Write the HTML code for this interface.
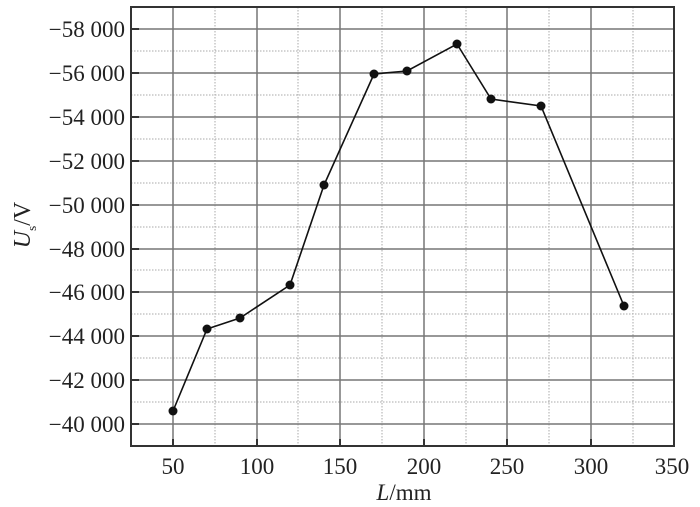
<!DOCTYPE html>
<html><head><style>body{margin:0;background:#fff}svg{display:block}</style></head><body>
<svg width="700" height="507" xmlns="http://www.w3.org/2000/svg" font-family="Liberation Serif, serif" fill="#222">
<g stroke="#aaa" stroke-width="1" stroke-dasharray="1.5,1.5">
<line x1="131" x2="674" y1="51" y2="51"/><line x1="131" x2="674" y1="95" y2="95"/><line x1="131" x2="674" y1="139" y2="139"/><line x1="131" x2="674" y1="183" y2="183"/><line x1="131" x2="674" y1="227" y2="227"/><line x1="131" x2="674" y1="270" y2="270"/><line x1="131" x2="674" y1="314" y2="314"/><line x1="131" x2="674" y1="358" y2="358"/><line x1="131" x2="674" y1="402" y2="402"/>
<line y1="7" y2="446" x1="215" x2="215"/><line y1="7" y2="446" x1="298" x2="298"/><line y1="7" y2="446" x1="382" x2="382"/><line y1="7" y2="446" x1="466" x2="466"/><line y1="7" y2="446" x1="549" x2="549"/><line y1="7" y2="446" x1="633" x2="633"/>
</g>
<g stroke="#777" stroke-width="1.5">
<line x1="131" x2="674" y1="29" y2="29"/><line x1="131" x2="674" y1="73" y2="73"/><line x1="131" x2="674" y1="117" y2="117"/><line x1="131" x2="674" y1="161" y2="161"/><line x1="131" x2="674" y1="205" y2="205"/><line x1="131" x2="674" y1="249" y2="249"/><line x1="131" x2="674" y1="292" y2="292"/><line x1="131" x2="674" y1="336" y2="336"/><line x1="131" x2="674" y1="380" y2="380"/><line x1="131" x2="674" y1="424" y2="424"/>
<line y1="7" y2="446" x1="173" x2="173"/><line y1="7" y2="446" x1="257" x2="257"/><line y1="7" y2="446" x1="340" x2="340"/><line y1="7" y2="446" x1="424" x2="424"/><line y1="7" y2="446" x1="507" x2="507"/><line y1="7" y2="446" x1="591" x2="591"/>
</g>
<rect x="131" y="7" width="543" height="439" fill="none" stroke="#333" stroke-width="2"/>
<g stroke="#333" stroke-width="2">
<line x1="131" x2="139" y1="29" y2="29"/><line x1="131" x2="139" y1="73" y2="73"/><line x1="131" x2="139" y1="117" y2="117"/><line x1="131" x2="139" y1="161" y2="161"/><line x1="131" x2="139" y1="205" y2="205"/><line x1="131" x2="139" y1="249" y2="249"/><line x1="131" x2="139" y1="292" y2="292"/><line x1="131" x2="139" y1="336" y2="336"/><line x1="131" x2="139" y1="380" y2="380"/><line x1="131" x2="139" y1="424" y2="424"/>
<line y1="446" y2="439" x1="173" x2="173"/><line y1="446" y2="439" x1="257" x2="257"/><line y1="446" y2="439" x1="340" x2="340"/><line y1="446" y2="439" x1="424" x2="424"/><line y1="446" y2="439" x1="507" x2="507"/><line y1="446" y2="439" x1="591" x2="591"/>
</g>
<polyline fill="none" stroke="#111" stroke-width="1.6" points="173,411 207,329 240,318 290,285 324,185 374,74 407,71 457,44 491,99 541,106 624,306"/>
<g fill="#111">
<circle cx="173" cy="411" r="4.5"/><circle cx="207" cy="329" r="4.5"/><circle cx="240" cy="318" r="4.5"/><circle cx="290" cy="285" r="4.5"/><circle cx="324" cy="185" r="4.5"/><circle cx="374" cy="74" r="4.5"/><circle cx="407" cy="71" r="4.5"/><circle cx="457" cy="44" r="4.5"/><circle cx="491" cy="99" r="4.5"/><circle cx="541" cy="106" r="4.5"/><circle cx="624" cy="306" r="4.5"/>
</g>
<g font-size="23" text-anchor="end">
<text x="125" y="37">−58 000</text><text x="125" y="81">−56 000</text><text x="125" y="125">−54 000</text><text x="125" y="169">−52 000</text><text x="125" y="213">−50 000</text><text x="125" y="257">−48 000</text><text x="125" y="300">−46 000</text><text x="125" y="344">−44 000</text><text x="125" y="388">−42 000</text><text x="125" y="432">−40 000</text>
</g>
<g font-size="23" text-anchor="middle">
<text x="173" y="474">50</text><text x="257" y="474">100</text><text x="340" y="474">150</text><text x="424" y="474">200</text><text x="507" y="474">250</text><text x="591" y="474">300</text><text x="672" y="474">350</text>
<text x="404" y="500"><tspan font-style="italic">L</tspan>/mm</text>
</g>
<text transform="translate(30,225) rotate(-90)" font-size="24" text-anchor="middle"><tspan font-style="italic">U</tspan><tspan font-size="13" dy="6">s</tspan><tspan dy="-6">/V</tspan></text>
</svg>
</body></html>
